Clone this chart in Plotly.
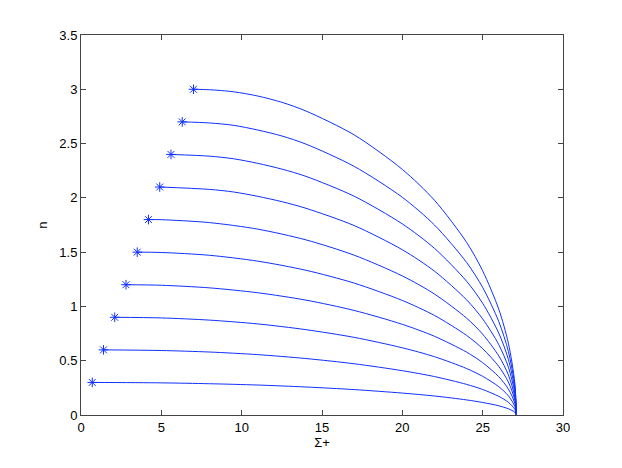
import plotly.graph_objects as go

# start points (stars)
sigma_start = [0.7, 1.4, 2.1, 2.8, 3.5, 4.2, 4.9, 5.6, 6.3, 7.0]
n_start = [0.3, 0.6, 0.9, 1.2, 1.5, 1.8, 2.1, 2.4, 2.7, 3.0]

# Sigma+ sample points after the start
sigma_grid_low = [5, 8, 11, 14, 17, 20, 22, 24, 25, 26, 26.6, 27.0, 27.1]
sigma_grid_high = [8, 9.5, 11, 12.5, 14, 17, 20, 22, 24, 25, 26, 26.6, 27.0, 27.1]

# n (after its start point)
n_curves = [
    [0.296, 0.288, 0.276, 0.258, 0.234, 0.202, 0.175, 0.139, 0.115, 0.085, 0.057, 0.026, 0],
    [0.594, 0.580, 0.556, 0.520, 0.472, 0.408, 0.354, 0.282, 0.235, 0.172, 0.117, 0.052, 0],
    [0.894, 0.874, 0.839, 0.786, 0.715, 0.619, 0.537, 0.428, 0.356, 0.261, 0.177, 0.079, 0],
    [1.195, 1.171, 1.126, 1.058, 0.963, 0.835, 0.725, 0.579, 0.482, 0.353, 0.239, 0.108, 0],
    [1.497, 1.471, 1.417, 1.333, 1.215, 1.055, 0.917, 0.733, 0.611, 0.448, 0.304, 0.137, 0],
    [1.799, 1.772, 1.712, 1.613, 1.472, 1.281, 1.114, 0.892, 0.744, 0.545, 0.370, 0.166, 0],
    [2.078, 2.054, 2.014, 1.965, 1.904, 1.745, 1.522, 1.325, 1.061, 0.885, 0.649, 0.441, 0.198, 0],
    [2.384, 2.360, 2.318, 2.265, 2.198, 2.015, 1.760, 1.535, 1.232, 1.029, 0.755, 0.513, 0.231, 0],
    [2.690, 2.668, 2.625, 2.570, 2.495, 2.290, 2.005, 1.750, 1.405, 1.175, 0.862, 0.586, 0.264, 0],
    [2.996, 2.977, 2.938, 2.880, 2.800, 2.580, 2.262, 1.978, 1.590, 1.328, 0.975, 0.662, 0.298, 0],
]

x_ticks = [0, 5, 10, 15, 20, 25, 30]
y_ticks = [0, 0.5, 1, 1.5, 2, 2.5, 3, 3.5]

BLUE = '#1030ff'
FONT = 'Liberation Sans, Arial, sans-serif'

fig = go.Figure()

for x0, y0, ns in zip(sigma_start, n_start, n_curves):
    grid = sigma_grid_low if len(ns) == len(sigma_grid_low) else sigma_grid_high
    fig.add_trace(go.Scatter(
        x=[x0] + grid, y=[y0] + ns, mode='lines',
        line=dict(color=BLUE, width=1, shape='spline', smoothing=0.8),
        showlegend=False, hoverinfo='skip',
    ))

fig.add_trace(go.Scatter(
    x=sigma_start, y=n_start, mode='markers',
    marker=dict(symbol='asterisk-open', size=8, color=BLUE,
                line=dict(color=BLUE, width=1)),
    showlegend=False,
))

axis_style = dict(
    showline=True, linecolor='#444', linewidth=1, mirror='ticks',
    ticks='inside', ticklen=5, tickcolor='#444',
    showgrid=False, zeroline=False,
    tickfont=dict(family=FONT, size=13, color='#000'),
)

# page body adds an 8px offset, so margins are shifted to compensate
fig.update_layout(
    width=622, height=468,
    margin=dict(l=73, r=67, t=27, b=61),
    paper_bgcolor='white', plot_bgcolor='white',
    font=dict(family=FONT, size=13, color='#000'),
    xaxis=dict(range=[0, 30], tickvals=x_ticks,
               title=dict(text='Σ+', standoff=4, font=dict(size=13)),
               **axis_style),
    yaxis=dict(range=[0, 3.5], tickvals=y_ticks,
               title=dict(text='n', standoff=8, font=dict(size=13)),
               **axis_style),
)

fig.write_html("out.html")
